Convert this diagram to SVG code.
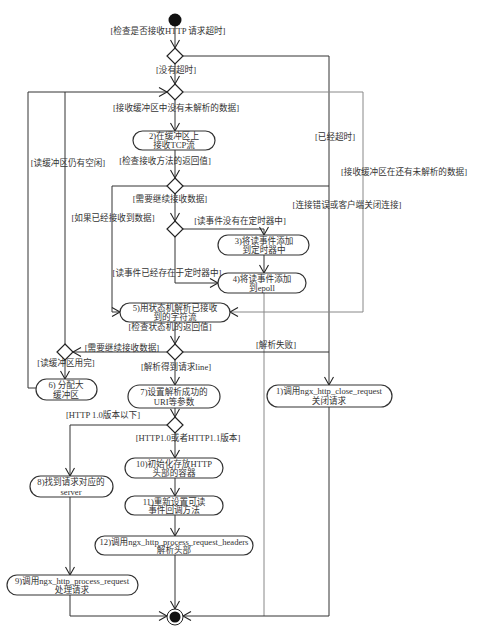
<svg xmlns="http://www.w3.org/2000/svg" width="481" height="630" viewBox="0 0 481 630">
<defs>
<marker id="arr" markerWidth="12" markerHeight="12" refX="9" refY="6" orient="auto" markerUnits="userSpaceOnUse">
<path d="M1,1.5 L9,6 L1,10.5" fill="none" stroke="#222" stroke-width="1.1"/>
</marker>
<style>
.n{fill:#fff;stroke:#333;stroke-width:1.2}
.d{fill:#fff;stroke:#222;stroke-width:1.2}
.c{fill:none;stroke:#333;stroke-width:1}
.g{fill:none;stroke:#888;stroke-width:1}
.a{marker-end:url(#arr)}
text{font-family:"Liberation Serif","Noto Sans CJK SC",serif;font-size:8.6px;fill:#333;text-anchor:middle}
</style>
</defs>
<rect width="481" height="630" fill="#fff"/>
<g id="connectors">
<path class="c a" d="M175,26 V48"/>
<path class="c a" d="M183,56 H329 V385"/>
<path class="c a" d="M175,64 V84"/>
<path class="c a" d="M175,100 V131"/>
<path class="g a" d="M183,92 H363 V312 H230"/>
<path class="c a" d="M175,150 V178"/>
<path class="c" d="M183,186 H329"/>
<path class="c a" d="M167,186 H112 V312 H120"/>
<path class="c a" d="M175,194 V221"/>
<path class="c a" d="M183,229 H264 V235"/>
<path class="c a" d="M175,237 V283 H218"/>
<path class="c a" d="M264,255 V273"/>
<path class="g" d="M264,293 V616"/>
<path class="c a" d="M175,322 V344"/>
<path class="c a" d="M167,352 H73"/>
<path class="c" d="M183,352 H329"/>
<path class="c a" d="M65,344 V92 H167"/>
<path class="c" d="M36,388 H28 V92 H65"/>
<path class="c a" d="M65,360 V379"/>
<path class="c a" d="M175,360 V385"/>
<path class="c a" d="M175,408 V417"/>
<path class="c a" d="M167,425 H70 V476"/>
<path class="c a" d="M175,433 V458"/>
<path class="c a" d="M175,478 V496"/>
<path class="c a" d="M175,515 V536"/>
<path class="c a" d="M175,555 V609"/>
<path class="c a" d="M70,497 V575"/>
<path class="c a" d="M70,595 V616 H167"/>
<path class="c a" d="M329,407 V616 H183"/>
</g>
<g id="labels">
<text x="168" y="34">[检查是否接收HTTP 请求超时]</text>
<text x="176" y="73">[没有超时]</text>
<text x="176" y="111">[接收缓冲区中没有未解析的数据]</text>
<text x="335" y="140">[已经超时]</text>
<text x="404" y="175">[接收缓冲区在还有未解析的数据]</text>
<text x="165" y="164">[检查接收方法的返回值]</text>
<text x="68" y="166">[读缓冲区仍有空闲]</text>
<text x="170" y="202">[需要继续接收数据]</text>
<text x="347" y="208">[连接错误或客户端关闭连接]</text>
<text x="113" y="221">[如果已经接收到数据]</text>
<text x="240" y="224">[读事件没有在定时器中]</text>
<text x="167" y="276">[读事件已经存在于定时器中]</text>
<text x="170" y="330">[检查状态机的返回值]</text>
<text x="122" y="351">[需要继续接收数据]</text>
<text x="276" y="348">[解析失败]</text>
<text x="66" y="366">[读缓冲区用完]</text>
<text x="176" y="370">[解析得到请求line]</text>
<text x="103" y="418">[HTTP 1.0版本以下]</text>
<text x="188" y="441">[HTTP1.0或者HTTP1.1版本]</text>
</g>
<g id="start"><circle cx="175" cy="20" r="6.5" fill="#111"/></g>
<g id="d1"><path class="d" d="M175,48 L183,56 L175,64 L167,56 Z"/></g>
<g id="d2"><path class="d" d="M175,84 L183,92 L175,100 L167,92 Z"/></g>
<g id="d3"><path class="d" d="M175,178 L183,186 L175,194 L167,186 Z"/></g>
<g id="d4"><path class="d" d="M175,221 L183,229 L175,237 L167,229 Z"/></g>
<g id="d5"><path class="d" d="M175,344 L183,352 L175,360 L167,352 Z"/></g>
<g id="d6"><path class="d" d="M65,344 L73,352 L65,360 L57,352 Z"/></g>
<g id="d7"><path class="d" d="M175,417 L183,425 L175,433 L167,425 Z"/></g>
<g id="node2"><rect class="n" x="133" y="131" width="82" height="19" rx="9.5"/><text x="174" y="139">2)在缓冲区上</text><text x="174" y="148">接收TCP流</text></g>
<g id="node3"><rect class="n" x="218" y="235" width="91" height="20" rx="10"/><text x="264" y="243.5">3)将读事件添加</text><text x="264" y="252.5">到定时器中</text></g>
<g id="node4"><rect class="n" x="218" y="273" width="88" height="20" rx="10"/><text x="262" y="281.5">4)将读事件添加</text><text x="262" y="290.5">到epoll</text></g>
<g id="node5"><rect class="n" x="120" y="303" width="110" height="19" rx="9.5"/><text x="175" y="311">5)用状态机解析已接收</text><text x="175" y="320">到的字符流</text></g>
<g id="node6"><rect class="n" x="36" y="379" width="61" height="21" rx="10.5"/><text x="66" y="388">6) 分配大</text><text x="66" y="397.5">缓冲区</text></g>
<g id="node7"><rect class="n" x="128" y="385" width="92" height="23" rx="11.5"/><text x="174" y="394.5">7)设置解析成功的</text><text x="174" y="404.5">URI等参数</text></g>
<g id="node1"><rect class="n" x="267" y="385" width="125" height="22" rx="11"/><text x="329" y="394">1)调用ngx_http_close_request</text><text x="329" y="404">关闭请求</text></g>
<g id="node10"><rect class="n" x="125" y="458" width="98" height="20" rx="10"/><text x="174" y="466.5">10)初始化存放HTTP</text><text x="174" y="475.5">头部的容器</text></g>
<g id="node8"><rect class="n" x="30" y="476" width="83" height="21" rx="10.5"/><text x="71" y="485">8)找到请求对应的</text><text x="71" y="494.5">server</text></g>
<g id="node11"><rect class="n" x="125" y="496" width="98" height="19" rx="9.5"/><text x="174" y="504.5">11)重新设置可读</text><text x="174" y="513">事件回调方法</text></g>
<g id="node12"><rect class="n" x="95" y="536" width="158" height="19" rx="9.5"/><text x="174" y="544.5">12)调用ngx_http_process_request_headers</text><text x="174" y="553">解析头部</text></g>
<g id="node9"><rect class="n" x="7" y="575" width="131" height="20" rx="10"/><text x="72" y="583.5">9)调用ngx_http_process_request</text><text x="72" y="592.5">处理请求</text></g>
<g id="end"><circle cx="175" cy="617" r="8" fill="#fff" stroke="#222" stroke-width="1"/><circle cx="175" cy="617" r="5.5" fill="#111"/></g>
</svg>
